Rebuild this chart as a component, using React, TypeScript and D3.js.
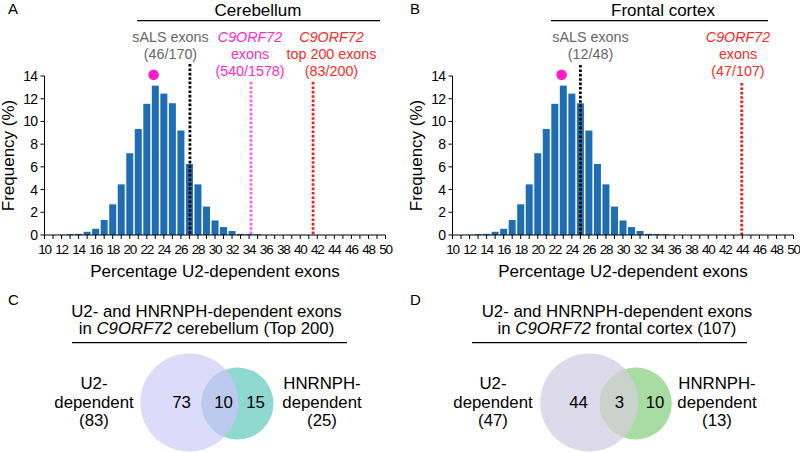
import React from 'react';
import * as d3 from 'd3';

// ---------- DATA ----------
const bins = [11, 12, 13, 14, 15, 16, 17, 18, 19, 20, 21, 22, 23, 24, 25, 26, 27, 28, 29, 30, 31, 32, 33, 34, 35];
const freqCerebellum = [0, 0.02, 0.08, 0.1, 0.28, 0.55, 1.32, 2.7, 4.46, 7.2, 9.33, 11.55, 13.15, 12.45, 11.6, 9.2, 6.25, 4.46, 2.5, 1.28, 0.7, 0.35, 0.1, 0.08, 0.06];
const freqFrontal = [0, 0.02, 0.08, 0.1, 0.28, 0.55, 1.32, 2.7, 4.46, 7.2, 9.33, 11.55, 13.15, 12.45, 11.6, 9.2, 6.25, 4.46, 2.5, 1.28, 0.7, 0.35, 0.1, 0.08, 0.06];
const xTickValues = d3.range(10, 51, 1);
const xTickLabels = [10, 12, 14, 16, 18, 20, 22, 24, 26, 28, 30, 32, 34, 36, 38, 40, 42, 44, 46, 48, 50];
const yTickLabels = [0, 2, 4, 6, 8, 10, 12, 14];
const meanDot = { x: 22.8, y: 14.1 };

// marker counts (hit / total)
const cerebellumMarkers = [
  { name: 'sals', hit: 46, total: 170 },
  { name: 'c9', hit: 540, total: 1578 },
  { name: 'top200', hit: 83, total: 200 },
];
const frontalMarkers = [
  { name: 'sals', hit: 12, total: 48 },
  { name: 'c9', hit: 47, total: 107 },
];

// Venn counts
const vennC = { left: 73, both: 10, right: 15, leftTotal: 83, rightTotal: 25 };
const vennD = { left: 44, both: 3, right: 10, leftTotal: 47, rightTotal: 13 };

// ---------- STYLE ----------
const FONT = '"Liberation Sans", Arial, Helvetica, sans-serif';
const BAR = '#1f6db5';
const GRAY = '#666666';
const MAGENTA_TXT = '#ff2ad0';
const MAGENTA_LINE = '#f565f0';
const RED = '#ff2a1f';
const RED_LINE = '#e8221c';

type Annot = {
  lines: { text: string; italic?: boolean }[];
  color: string;
  cx: number;
  y0: number;
};
type Marker = { value: number; color: string; top: number };

function Histogram(props: {
  x0: number;
  freq: number[];
  markers: Marker[];
  annots: Annot[];
  title: string;
  titleX: number;
  lineX1: number;
  lineX2: number;
  letter: string;
  letterX: number;
  labelX: number;
}) {
  const { x0, freq, markers, annots, title, titleX, lineX1, lineX2, letter, letterX, labelX } = props;
  const xs = d3.scaleLinear().domain([10, 50]).range([x0, x0 + 341]);
  const ys = d3.scaleLinear().domain([0, 14]).range([235, 76]);
  const bw = 7.0;
  return (
    <g fontFamily={FONT}>
      <text x={letterX} y={14} fontSize={15}>{letter}</text>
      <text x={titleX} y={15.5} fontSize={17} textAnchor="middle">{title}</text>
      <line x1={lineX1} x2={lineX2} y1={20.7} y2={20.7} stroke="#000" strokeWidth={1.3} />
      {annots.map((a, i) => (
        <text key={i} x={a.cx} textAnchor="middle" fontSize={14.3} fill={a.color}>
          {a.lines.map((l, j) => (
            <tspan key={j} x={a.cx} y={a.y0 + j * 17} fontStyle={l.italic ? 'italic' : 'normal'}>{l.text}</tspan>
          ))}
        </text>
      ))}
      {bins.map((b, i) => (
        <rect key={b} x={xs(b) - bw / 2} y={ys(freq[i])} width={bw} height={ys(0) - ys(freq[i])} fill={BAR} />
      ))}
      {markers.map((m, i) => (
        <line key={i} x1={xs(m.value)} x2={xs(m.value)} y1={m.top} y2={ys(0)} stroke={m.color} strokeWidth={2.8} strokeDasharray="2.6,1.8" />
      ))}
      <circle cx={xs(meanDot.x)} cy={ys(meanDot.y)} r={5.3} fill="#ff1fc8" />
      {/* axes */}
      <line x1={x0} x2={x0} y1={ys(0)} y2={ys(14)} stroke="#000" strokeWidth={1} />
      <line x1={x0} x2={xs(50)} y1={ys(0)} y2={ys(0)} stroke="#000" strokeWidth={1} />
      {yTickLabels.map((t) => (
        <g key={t}>
          <line x1={x0 - 4} x2={x0} y1={ys(t)} y2={ys(t)} stroke="#000" />
          <text x={x0 - 7} y={ys(t) + 5} fontSize={14} textAnchor="end" letterSpacing={-0.6}>{t}</text>
        </g>
      ))}
      {xTickValues.map((t) => (
        <line key={t} x1={xs(t)} x2={xs(t)} y1={ys(0)} y2={ys(0) + 4} stroke="#000" />
      ))}
      {xTickLabels.map((t) => (
        <text key={t} x={xs(t)} y={253.5} fontSize={13.5} textAnchor="middle" letterSpacing={-1.2}>{t}</text>
      ))}
      <text x={(x0 + xs(50)) / 2} y={276.5} fontSize={17} textAnchor="middle">Percentage U2-dependent exons</text>
      <text transform={`translate(${labelX},155.5) rotate(-90)`} fontSize={17} textAnchor="middle">Frequency (%)</text>
    </g>
  );
}

function Venn(props: {
  id: string;
  counts: { left: number; both: number; right: number; leftTotal: number; rightTotal: number };
  bigC: [number, number];
  smallC: [number, number];
  bigR: number;
  smallR: number;
  colBig: string;
  colSmall: string;
  colBoth: string;
  title1: string;
  title2pre: string;
  title2post: string;
  titleX: number;
  ulX1: number;
  ulX2: number;
  leftLabelX: number;
  rightLabelX: number;
  numX: [number, number, number];
  letter: string;
  letterX: number;
}) {
  const p = props;
  const fs = 16.8;
  return (
    <g fontFamily={FONT}>
      <defs>
        <clipPath id={p.id}>
          <circle cx={p.smallC[0]} cy={p.smallC[1]} r={p.smallR} />
        </clipPath>
      </defs>
      <text x={p.letterX} y={305} fontSize={15}>{p.letter}</text>
      <text x={p.titleX} y={316.5} fontSize={fs} textAnchor="middle">{p.title1}</text>
      <text x={p.titleX} y={334} fontSize={fs} textAnchor="middle">
        {p.title2pre}<tspan fontStyle="italic">C9ORF72</tspan>{p.title2post}
      </text>
      <line x1={p.ulX1} x2={p.ulX2} y1={342.7} y2={342.7} stroke="#000" strokeWidth={1.2} />
      <circle cx={p.bigC[0]} cy={p.bigC[1]} r={p.bigR} fill={p.colBig} />
      <circle cx={p.smallC[0]} cy={p.smallC[1]} r={p.smallR} fill={p.colSmall} />
      <circle cx={p.bigC[0]} cy={p.bigC[1]} r={p.bigR} fill={p.colBoth} clipPath={`url(#${p.id})`} />
      <text fontSize={fs} textAnchor="middle">
        <tspan x={p.numX[0]} y={408}>{p.counts.left}</tspan>
        <tspan x={p.numX[1]} y={408}>{p.counts.both}</tspan>
        <tspan x={p.numX[2]} y={408}>{p.counts.right}</tspan>
      </text>
      <text fontSize={fs} textAnchor="middle">
        <tspan x={p.leftLabelX} y={389}>U2-</tspan>
        <tspan x={p.leftLabelX} y={408}>dependent</tspan>
        <tspan x={p.leftLabelX} y={426}>({p.counts.leftTotal})</tspan>
      </text>
      <text fontSize={fs} textAnchor="middle">
        <tspan x={p.rightLabelX} y={389}>HNRNPH-</tspan>
        <tspan x={p.rightLabelX} y={408}>dependent</tspan>
        <tspan x={p.rightLabelX} y={426}>({p.counts.rightTotal})</tspan>
      </text>
    </g>
  );
}

const pct = (m: { hit: number; total: number }) => (m.hit / m.total) * 100;

export default function App() {
  const mA = cerebellumMarkers;
  const mB = frontalMarkers;
  return (
    <svg width={800} height={452} style={{ position: 'absolute', left: 0, top: 0, background: '#fff' }}>
      <rect width={800} height={452} fill="#fff" />
      <Histogram
        x0={44.5}
        freq={freqCerebellum}
        letter="A"
        letterX={8}
        labelX={14}
        title="Cerebellum"
        titleX={258}
        lineX1={137}
        lineX2={380}
        markers={[
          { value: pct(mA[0]), color: '#000', top: 64 },
          { value: pct(mA[1]), color: MAGENTA_LINE, top: 82 },
          { value: pct(mA[2]), color: RED_LINE, top: 82 },
        ]}
        annots={[
          { cx: 170.5, y0: 41.5, color: GRAY, lines: [{ text: 'sALS exons' }, { text: `(${mA[0].hit}/${mA[0].total})` }] },
          { cx: 250, y0: 41.5, color: MAGENTA_TXT, lines: [{ text: 'C9ORF72', italic: true }, { text: 'exons' }, { text: `(${mA[1].hit}/${mA[1].total})` }] },
          { cx: 331.5, y0: 41.5, color: RED, lines: [{ text: 'C9ORF72', italic: true }, { text: 'top 200 exons' }, { text: `(${mA[2].hit}/${mA[2].total})` }] },
        ]}
      />
      <Histogram
        x0={452.5}
        freq={freqFrontal}
        letter="B"
        letterX={410}
        labelX={422}
        title="Frontal cortex"
        titleX={663}
        lineX1={551}
        lineX2={768}
        markers={[
          { value: pct(mB[0]), color: '#000', top: 65 },
          { value: pct(mB[1]), color: RED_LINE, top: 83 },
        ]}
        annots={[
          { cx: 590.5, y0: 41.5, color: GRAY, lines: [{ text: 'sALS exons' }, { text: `(${mB[0].hit}/${mB[0].total})` }] },
          { cx: 738, y0: 41.5, color: RED, lines: [{ text: 'C9ORF72', italic: true }, { text: 'exons' }, { text: `(${mB[1].hit}/${mB[1].total})` }] },
        ]}
      />
      <Venn
        id="clipC"
        counts={vennC}
        bigC={[189.3, 402.5]}
        smallC={[237.5, 403.5]}
        bigR={49}
        smallR={36}
        colBig="#dcdcfa"
        colSmall="#8fd9d1"
        colBoth="#bccaee"
        title1="U2- and HNRNPH-dependent exons"
        title2pre="in "
        title2post=" cerebellum (Top 200)"
        titleX={206.5}
        ulX1={72}
        ulX2={347}
        leftLabelX={94}
        rightLabelX={322}
        numX={[181.5, 223.5, 255.5]}
        letter="C"
        letterX={8}
      />
      <Venn
        id="clipD"
        counts={vennD}
        bigC={[589.2, 402.5]}
        smallC={[635.8, 403.5]}
        bigR={49}
        smallR={36}
        colBig="#dddaec"
        colSmall="#a9dca2"
        colBoth="#c9d3cc"
        title1="U2- and HNRNPH-dependent exons"
        title2pre="in "
        title2post=" frontal cortex (107)"
        titleX={617}
        ulX1={472}
        ulX2={747}
        leftLabelX={493}
        rightLabelX={717}
        numX={[578.5, 619.5, 655]}
        letter="D"
        letterX={410}
      />
    </svg>
  );
}
